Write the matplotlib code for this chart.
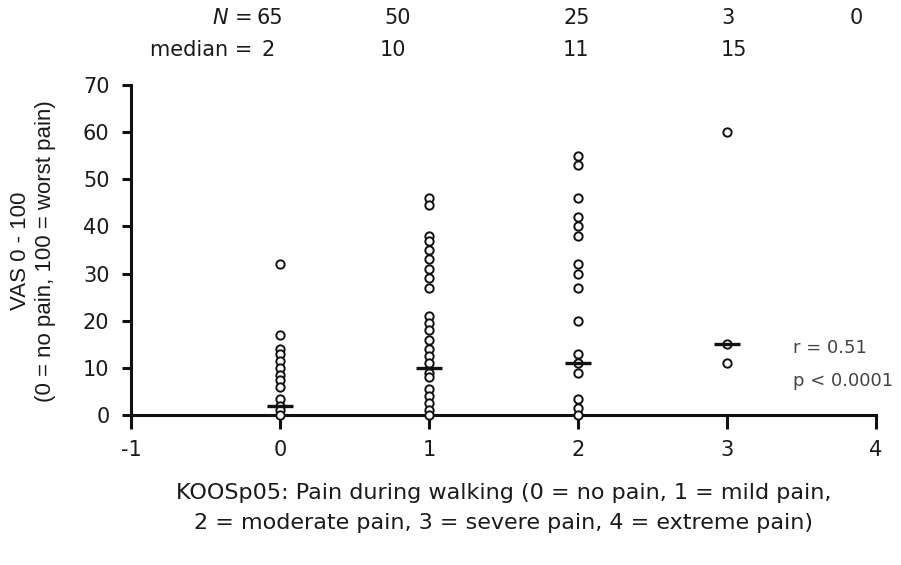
import matplotlib
matplotlib.use("Agg")
import matplotlib.pyplot as plt

# ---- data ----
categories = [0, 1, 2, 3, 4]
n_counts = [65, 50, 25, 3, 0]
medians = [2, 10, 11, 15]
vas_0 = [32, 17, 14, 13, 11.5, 10, 8.5, 7.5, 6, 3.5, 2, 1, 0]
vas_1 = [46, 44.5, 38, 37, 35, 33, 31, 29, 27, 21, 19.5, 18, 16, 14, 12.5,
         11, 9, 8, 5.5, 4, 2.5, 1, 0]
vas_2 = [55, 53, 46, 42, 40, 38, 32, 30, 27, 20, 13, 11, 9, 3.5, 1.5, 0]
vas_3 = [60, 15, 11]
groups = [vas_0, vas_1, vas_2, vas_3]
x_ticks = [-1, 0, 1, 2, 3, 4]
y_ticks = [0, 10, 20, 30, 40, 50, 60, 70]
r_text = "r = 0.51"
p_text = "p < 0.0001"

W, H = 901, 565
plt.rcParams['font.family'] = ['DejaVu Sans']
fig = plt.figure(figsize=(W / 100, H / 100), dpi=100)
ax = fig.add_axes([131 / W, 1 - 415 / H, (876 - 131) / W, (415 - 85) / H])

txtc = '#1a1a1a'
for cat, vals in zip(categories, groups):
    ax.plot([cat] * len(vals), vals, linestyle='none', marker='o',
            markersize=6, markerfacecolor='white', markeredgecolor='#111111',
            markeredgewidth=1.4, clip_on=False, zorder=3)
for cat, med in zip(categories, medians):
    ax.plot([cat - 0.09, cat + 0.09], [med, med], color='#111111', lw=2.4,
            solid_capstyle='butt', zorder=4, clip_on=False)

ax.set_xlim(-1, 4)
ax.set_ylim(0, 70)
ax.set_xticks(x_ticks)
ax.set_yticks(y_ticks)
ax.set_xticklabels([str(t) for t in x_ticks])
ax.spines['top'].set_visible(False)
ax.spines['right'].set_visible(False)
for s in ('left', 'bottom'):
    ax.spines[s].set_linewidth(2.2)
    ax.spines[s].set_color('#111111')
ax.tick_params(axis='x', direction='out', length=10, width=2.2, color='#111111',
               labelsize=15, labelcolor=txtc, pad=8)
ax.tick_params(axis='y', direction='out', length=6.5, width=2.2, color='#111111',
               labelsize=15, labelcolor=txtc, pad=9)

ax.set_xlabel("KOOSp05: Pain during walking (0 = no pain, 1 = mild pain,\n"
              "2 = moderate pain, 3 = severe pain, 4 = extreme pain)",
              fontsize=16, color=txtc, labelpad=16.5, linespacing=1.62)

def fx(px):
    return px / W

def fy(py):
    return 1 - py / H

# y label (two rotated lines)
yl_font = ['Liberation Sans', 'DejaVu Sans']
fig.text(fx(21), fy(251), "VAS 0 - 100", rotation=90, ha='center', va='center',
         fontsize=16, color=txtc, family=yl_font)
fig.text(fx(46), fy(251), "(0 = no pain, 100 = worst pain)", rotation=90,
         ha='center', va='center', fontsize=16, color=txtc, family=yl_font)

# header rows
fig.text(fx(252), fy(18), r"$N$ =", ha='right', va='center', fontsize=15, color=txtc)
fig.text(fx(252), fy(50), "median =", ha='right', va='center', fontsize=15, color=txtc)
n_pos = [270, 398, 577, 728, 856]
m_pos = [268, 393, 576, 734]
for px, n in zip(n_pos, n_counts):
    fig.text(fx(px), fy(18), str(n), ha='center', va='center', fontsize=15, color=txtc)
for px, m in zip(m_pos, medians):
    fig.text(fx(px), fy(50), str(m), ha='center', va='center', fontsize=15, color=txtc)

fig.text(fx(793), fy(348), r_text, ha='left', va='center', fontsize=13,
         color='#444444')
fig.text(fx(793), fy(381), p_text, ha='left', va='center', fontsize=13,
         color='#444444')

fig.savefig("out.png", dpi=100)
